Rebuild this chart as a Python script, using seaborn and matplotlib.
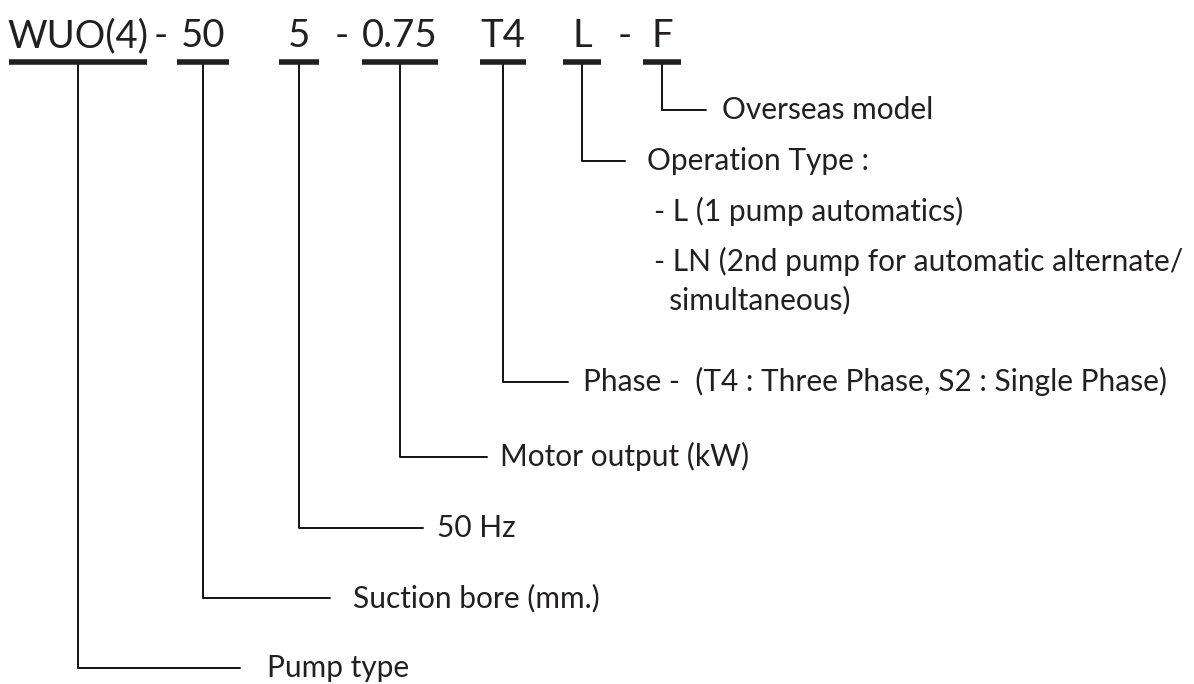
import matplotlib
matplotlib.use("Agg")
import matplotlib.pyplot as plt
import pandas as pd
import seaborn as sns

# model code parts, left to right
codes = ["WUO(4)", "50", "5", "0.75", "T4", "L", "F"]
code_x = [78, 203, 299, 400, 503, 582, 662]
bar_half = [69, 26, 20, 38, 23, 19, 19]
dashes_x = [161, 342, 625]

# meaning of each part (same order as codes)
labels = [
    "Pump type",
    "Suction bore (mm.)",
    "50 Hz",
    "Motor output (kW)",
    "Phase -  (T4 : Three Phase, S2 : Single Phase)",
    "Operation Type :",
    "Overseas model",
]
elbow_y = [668, 598, 528, 457, 382, 161, 110]
elbow_end = [240, 330, 423, 487, 568, 625, 706]
label_x = [267, 353, 437, 500, 583, 647, 722]

# extra lines under "Operation Type"
sub_lines = [
    "- L (1 pump automatics)",
    "- LN (2nd pump for automatic alternate/",
    "  simultaneous)",
]
sub_y = [221, 271, 309]

sns.set_theme(style="white")
plt.rcParams["font.family"] = ["Lato", "DejaVu Sans"]
ink = "#231f20"

fig = plt.figure(figsize=(11.94, 6.84), dpi=100)
ax = fig.add_axes([0, 0, 1, 1])

# leader lines: down from the bar, then right to the label
rows = []
for i, c in enumerate(codes):
    rows.append({"seg": c, "x": code_x[i], "y": 64})
    rows.append({"seg": c, "x": code_x[i], "y": elbow_y[i]})
    rows.append({"seg": c, "x": elbow_end[i], "y": elbow_y[i]})
lines = pd.DataFrame(rows)
sns.lineplot(data=lines, x="x", y="y", units="seg", estimator=None, sort=False,
             color="#111111", linewidth=1.4, ax=ax)

# thick underlines under each code
bars = []
for i, c in enumerate(codes):
    bars.append({"seg": c, "x": code_x[i] - bar_half[i], "y": 62})
    bars.append({"seg": c, "x": code_x[i] + bar_half[i], "y": 62})
bars = pd.DataFrame(bars)
sns.lineplot(data=bars, x="x", y="y", units="seg", estimator=None, sort=False,
             color=ink, linewidth=4, solid_capstyle="butt", ax=ax)

ax.set_xlim(0, 1194)
ax.set_ylim(684, 0)
ax.axis("off")

for i, c in enumerate(codes):
    ax.text(code_x[i], 47, c, ha="center", va="baseline", fontsize=27.5, color=ink)
for x in dashes_x:
    ax.text(x, 47, "-", ha="center", va="baseline", fontsize=27.5, color=ink)

for i, lab in enumerate(labels):
    ax.text(label_x[i], elbow_y[i] + 9, lab, ha="left", va="baseline",
            fontsize=21.5, color=ink)
for s, y in zip(sub_lines, sub_y):
    ax.text(654, y, s, ha="left", va="baseline", fontsize=21.5, color=ink)

fig.savefig("out.png", dpi=100)
